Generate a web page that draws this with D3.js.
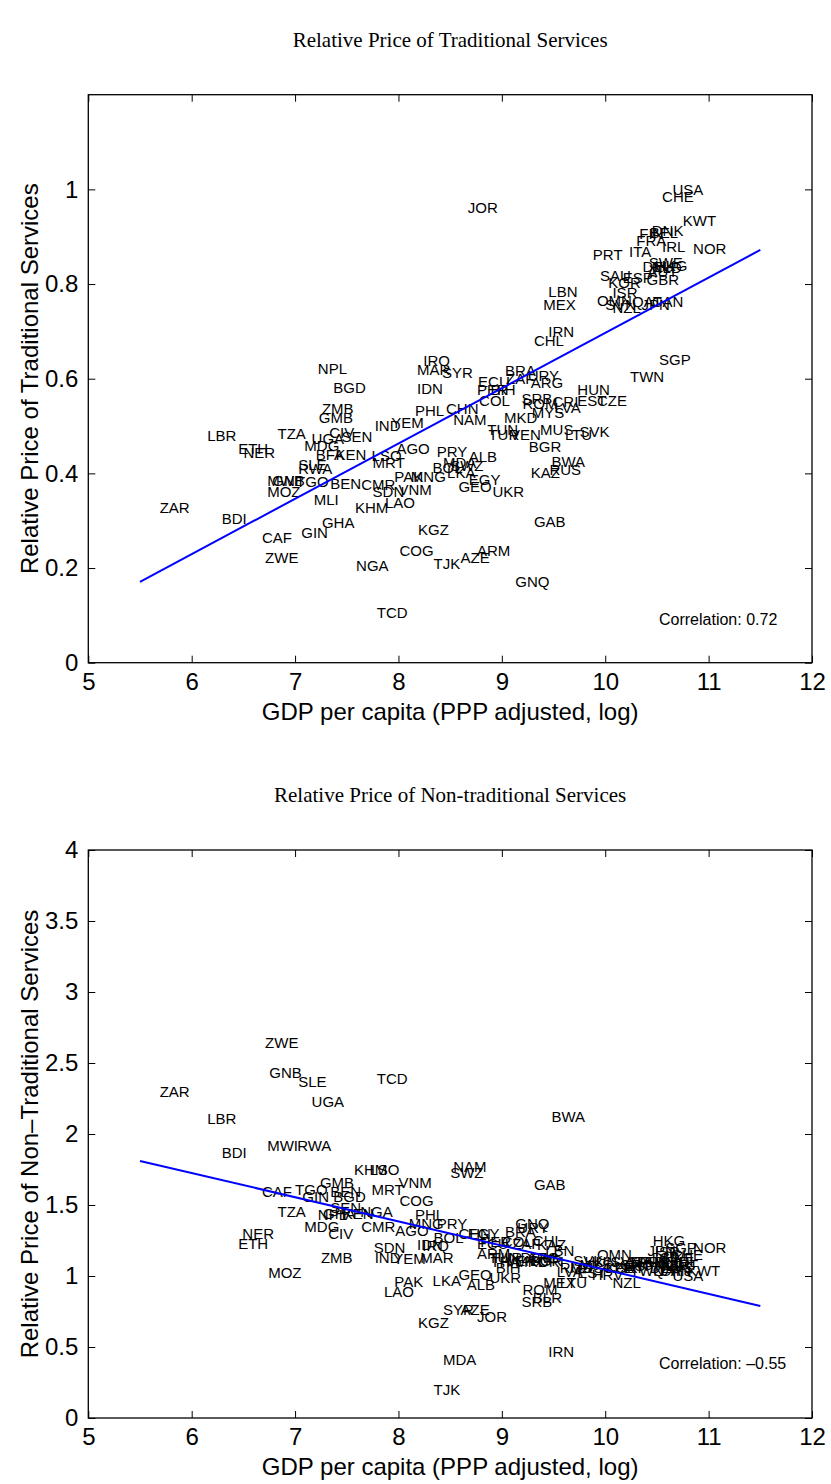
<!DOCTYPE html>
<html>
<head>
<meta charset="utf-8">
<script src="https://cdnjs.cloudflare.com/ajax/libs/d3/7.8.5/d3.min.js"></script>
<style>
  body { margin: 0; background: #fff; }
  svg { display: block; }
</style>
</head>
<body>
<script>
// country code, log GDP per capita, relative price
var tradPoints = [
  ["NPL", 7.22, 0.622], ["BGD", 7.37, 0.580], ["ZMB", 7.26, 0.536], ["GMB", 7.23, 0.517],
  ["CIV", 7.33, 0.485], ["SEN", 7.45, 0.477], ["LBR", 6.15, 0.479], ["TZA", 6.83, 0.483],
  ["UGA", 7.16, 0.473], ["MDG", 7.09, 0.458], ["ETH", 6.45, 0.451], ["NER", 6.50, 0.443],
  ["BFA", 7.20, 0.439], ["KEN", 7.39, 0.439], ["SLE", 7.03, 0.418], ["RWA", 7.03, 0.409],
  ["MWI", 6.73, 0.384], ["GNB", 6.78, 0.384], ["TGO", 7.01, 0.382], ["BEN", 7.34, 0.377],
  ["MOZ", 6.73, 0.361], ["MLI", 7.18, 0.344], ["ZAR", 5.69, 0.327], ["BDI", 6.29, 0.304],
  ["GHA", 7.26, 0.295], ["GIN", 7.06, 0.274], ["CAF", 6.68, 0.263], ["ZWE", 6.71, 0.221],
  ["CHL", 9.31, 0.680], ["IRQ", 8.24, 0.637], ["MAR", 8.18, 0.618], ["SYR", 8.42, 0.612],
  ["BRA", 9.03, 0.616], ["ZAF", 9.04, 0.600], ["URY", 9.25, 0.606], ["ARG", 9.28, 0.591],
  ["ECU", 8.77, 0.593], ["PER", 8.76, 0.576], ["BIH", 8.89, 0.576], ["COL", 8.78, 0.553],
  ["IDN", 8.18, 0.578], ["PHL", 8.16, 0.532], ["CHN", 8.46, 0.536], ["NAM", 8.53, 0.513],
  ["YEM", 7.93, 0.506], ["IND", 7.77, 0.500], ["SRB", 9.19, 0.557], ["ROM", 9.20, 0.547],
  ["MYS", 9.29, 0.528], ["MKD", 9.02, 0.517], ["LVA", 9.51, 0.538], ["CRI", 9.49, 0.551],
  ["EST", 9.73, 0.553], ["CZE", 9.92, 0.553], ["HUN", 9.73, 0.576], ["TWN", 10.24, 0.604],
  ["SGP", 10.52, 0.640], ["SVK", 9.75, 0.487], ["LTU", 9.61, 0.481], ["MUS", 9.37, 0.492],
  ["TUN", 8.86, 0.492], ["TUR", 8.87, 0.481], ["VEN", 9.08, 0.481], ["BGR", 9.26, 0.456],
  ["BWA", 9.48, 0.424], ["RUS", 9.46, 0.407], ["KAZ", 9.28, 0.401], ["AGO", 7.98, 0.451],
  ["LSO", 7.74, 0.437], ["MRT", 7.75, 0.422], ["PRY", 8.37, 0.445], ["ALB", 8.68, 0.435],
  ["MDA", 8.43, 0.422], ["SWZ", 8.50, 0.416], ["BOL", 8.33, 0.411], ["LKA", 8.47, 0.401],
  ["PAK", 7.96, 0.392], ["MNG", 8.12, 0.392], ["CMR", 7.64, 0.375], ["SDN", 7.75, 0.361],
  ["VNM", 8.00, 0.365], ["KHM", 7.58, 0.327], ["LAO", 7.87, 0.337], ["EGY", 8.68, 0.386],
  ["GEO", 8.58, 0.371], ["UKR", 8.91, 0.361], ["GAB", 9.31, 0.297], ["KGZ", 8.19, 0.280],
  ["COG", 8.01, 0.236], ["ARM", 8.76, 0.236], ["AZE", 8.60, 0.221], ["TJK", 8.34, 0.209],
  ["NGA", 7.59, 0.204], ["GNQ", 9.13, 0.171], ["TCD", 7.79, 0.105], ["JOR", 8.67, 0.961],
  ["USA", 10.65, 0.999], ["CHE", 10.55, 0.984], ["KWT", 10.75, 0.933], ["DNK", 10.45, 0.913],
  ["FIN", 10.33, 0.906], ["BEL", 10.43, 0.909], ["FRA", 10.30, 0.891], ["IRL", 10.55, 0.878],
  ["NOR", 10.85, 0.874], ["ITA", 10.23, 0.868], ["PRT", 9.88, 0.862], ["DEU", 10.36, 0.836],
  ["SWE", 10.42, 0.844], ["NLD", 10.45, 0.834], ["AUT", 10.41, 0.825], ["HKG", 10.48, 0.838],
  ["GBR", 10.40, 0.809], ["ESP", 10.17, 0.813], ["SAU", 9.95, 0.817], ["KOR", 10.03, 0.802],
  ["ISR", 10.07, 0.781], ["OMN", 9.92, 0.764], ["SVN", 10.00, 0.756], ["NZL", 10.07, 0.749],
  ["QAT", 10.26, 0.762], ["JPN", 10.35, 0.756], ["CAN", 10.45, 0.762], ["LBN", 9.45, 0.783],
  ["MEX", 9.40, 0.756], ["IRN", 9.45, 0.700]
];

var nonTradPoints = [
  ["ZWE", 6.71, 2.64], ["GNB", 6.75, 2.43], ["SLE", 7.03, 2.37], ["TCD", 7.79, 2.39],
  ["ZAR", 5.69, 2.30], ["UGA", 7.16, 2.23], ["LBR", 6.15, 2.11], ["MWI", 6.73, 1.92],
  ["RWA", 7.02, 1.92], ["BDI", 6.29, 1.87], ["BWA", 9.48, 2.12], ["KHM", 7.57, 1.75],
  ["LSO", 7.72, 1.75], ["VNM", 8.00, 1.66], ["GMB", 7.24, 1.66], ["MRT", 7.74, 1.61],
  ["CAF", 6.68, 1.59], ["TGO", 7.00, 1.61], ["GIN", 7.07, 1.56], ["BEN", 7.34, 1.59],
  ["BGD", 7.37, 1.56], ["SEN", 7.34, 1.48], ["TZA", 6.83, 1.45], ["NPL", 7.22, 1.43],
  ["GHA", 7.27, 1.44], ["KEN", 7.46, 1.44], ["NGA", 7.63, 1.45], ["MDG", 7.09, 1.35],
  ["CIV", 7.32, 1.30], ["CMR", 7.64, 1.35], ["NER", 6.49, 1.30], ["ETH", 6.45, 1.23],
  ["ZMB", 7.25, 1.13], ["SDN", 7.76, 1.20], ["IND", 7.77, 1.13], ["MOZ", 6.74, 1.02],
  ["PAK", 7.96, 0.96], ["LAO", 7.86, 0.89], ["NAM", 8.53, 1.77], ["SWZ", 8.50, 1.73],
  ["GAB", 9.31, 1.64], ["COG", 8.01, 1.53], ["PHL", 8.16, 1.43], ["MNG", 8.10, 1.37],
  ["PRY", 8.37, 1.37], ["AGO", 7.97, 1.32], ["BOL", 8.34, 1.27], ["CHN", 8.58, 1.30],
  ["EGY", 8.67, 1.30], ["BRA", 9.03, 1.31], ["URY", 9.15, 1.34], ["GNQ", 9.13, 1.37],
  ["IDN", 8.18, 1.22], ["IRQ", 8.23, 1.21], ["YEM", 7.95, 1.12], ["MAR", 8.21, 1.13],
  ["ECU", 8.76, 1.23], ["ARM", 8.76, 1.16], ["TUN", 8.87, 1.13], ["THA", 8.89, 1.10],
  ["BIH", 8.94, 1.06], ["ZAF", 9.10, 1.23], ["COL", 9.00, 1.24], ["PER", 8.79, 1.24],
  ["CHL", 9.30, 1.25], ["DOM", 9.18, 1.13], ["MKD", 9.13, 1.10], ["BGR", 9.27, 1.11],
  ["ARG", 9.24, 1.13], ["KAZ", 9.34, 1.22], ["LBN", 9.42, 1.18], ["GEO", 8.58, 1.01],
  ["UKR", 8.88, 0.99], ["LKA", 8.33, 0.97], ["ALB", 8.66, 0.94], ["MEX", 9.40, 0.95],
  ["LTU", 9.56, 0.95], ["ROM", 9.20, 0.90], ["BLR", 9.30, 0.85], ["SRB", 9.19, 0.82],
  ["SYR", 8.43, 0.76], ["AZE", 8.60, 0.76], ["JOR", 8.76, 0.71], ["KGZ", 8.19, 0.67],
  ["MDA", 8.43, 0.41], ["TJK", 8.34, 0.20], ["IRN", 9.45, 0.47], ["VEN", 9.03, 1.11],
  ["TUR", 8.90, 1.13], ["CRI", 9.35, 1.10], ["RUS", 9.56, 1.06],
  ["HKG", 10.46, 1.25], ["NOR", 10.85, 1.20], ["SGP", 10.58, 1.20], ["CHE", 10.64, 1.15],
  ["JPN", 10.41, 1.18], ["ISR", 10.48, 1.17], ["DNK", 10.45, 1.13], ["SWE", 10.53, 1.13],
  ["FIN", 10.38, 1.10], ["GBR", 10.51, 1.08], ["FRA", 10.33, 1.10], ["BEL", 10.48, 1.10],
  ["ITA", 10.24, 1.10], ["AUS", 10.55, 1.06], ["CAN", 10.53, 1.04], ["AUT", 10.61, 1.08],
  ["IRL", 10.67, 1.10], ["DEU", 10.43, 1.06], ["NLD", 10.48, 1.07], ["QAT", 10.46, 1.04],
  ["KWT", 10.79, 1.04], ["USA", 10.65, 1.00], ["OMN", 9.92, 1.15], ["SVK", 9.69, 1.11],
  ["NZL", 10.07, 0.95], ["LVA", 9.53, 1.03], ["EST", 9.73, 1.02], ["HRV", 9.87, 1.01],
  ["CZE", 9.98, 1.06], ["SVN", 10.05, 1.10], ["KOR", 10.00, 1.06], ["GRC", 10.14, 1.08],
  ["PRT", 10.09, 1.06], ["ESP", 10.19, 1.07], ["SAU", 10.22, 1.10], ["HUN", 9.80, 1.10],
  ["MYS", 9.75, 1.08], ["MUS", 9.66, 1.06], ["TWN", 10.24, 1.04]
];

var xTicks = [5, 6, 7, 8, 9, 10, 11, 12];
var tradYTicks = [0, 0.2, 0.4, 0.6, 0.8, 1];
var nonTradYTicks = [0, 0.5, 1, 1.5, 2, 2.5, 3, 3.5, 4];

// fitted line end points [gdp, price]
var tradFit = [[5.5, 0.171], [11.5, 0.872]];
var nonTradFit = [[5.5, 1.81], [11.5, 0.789]];

var tradCorr = "Correlation: 0.72";
var nonTradCorr = "Correlation: \u20130.55";

var full_width = 831, full_height = 1484;
var sans = "'Liberation Sans', Arial, Helvetica, sans-serif";
var serif = "'Liberation Serif', 'Times New Roman', serif";

var svg = d3.select("body").append("svg")
  .attr("width", full_width)
  .attr("height", full_height);

var drawPanel = function(p) {
  var left = 88.3, right = 812;
  var width = right - left, height = p.bottom - p.top;

  var x = d3.scaleLinear().domain([5, 12]).range([0, width]);
  var y = d3.scaleLinear().domain(p.yDomain).range([height, 0]);

  var g = svg.append("g")
    .attr("transform", "translate(" + left + "," + p.top + ")");

  // title
  g.append("text")
    .attr("x", width / 2)
    .attr("y", -55)
    .attr("dy", "0.35em")
    .attr("text-anchor", "middle")
    .style("font-family", serif)
    .style("font-size", "21px")
    .text(p.title);

  // country labels: MATLAB text, left aligned, vertically centred
  g.selectAll("text.code")
    .data(p.points)
    .enter().append("text")
    .attr("class", "code")
    .attr("x", function(d) { return x(d[1]); })
    .attr("y", function(d) { return y(d[2]); })
    .attr("dy", "0.35em")
    .style("font-family", sans)
    .style("font-size", "15px")
    .style("fill", "#000")
    .text(function(d) { return d[0]; });

  // fitted line
  g.append("path")
    .datum(p.fit)
    .attr("fill", "none")
    .attr("stroke", "#0000ff")
    .attr("stroke-width", 2)
    .attr("d", d3.line().x(function(d) { return x(d[0]); }).y(function(d) { return y(d[1]); }));

  // axes: ticks inside on all four sides
  var tl = 7;
  var fmt = function(d) { return String(d); };
  var xb = d3.axisBottom(x).tickValues(xTicks).tickSize(-tl).tickSizeOuter(0).tickFormat(fmt);
  var xt = d3.axisTop(x).tickValues(xTicks).tickSize(-tl).tickSizeOuter(0).tickFormat("");
  var yl = d3.axisLeft(y).tickValues(p.yTicks).tickSize(-tl).tickSizeOuter(0).tickPadding(10)
    .tickFormat(fmt);
  var yr = d3.axisRight(y).tickValues(p.yTicks).tickSize(-tl).tickSizeOuter(0).tickFormat("");

  var gx = g.append("g").attr("transform", "translate(0," + height + ")").call(xb);
  g.append("g").call(xt);
  g.append("g").call(yl);
  g.append("g").attr("transform", "translate(" + width + ",0)").call(yr);

  g.selectAll(".domain").remove();
  g.selectAll(".tick line").attr("stroke", "#000").attr("stroke-width", 1);
  g.selectAll(".tick text")
    .style("font-family", sans)
    .style("font-size", "24px")
    .attr("fill", "#000");
  gx.selectAll(".tick text").attr("y", 10).attr("dy", "0.71em");

  g.append("rect")
    .attr("width", width)
    .attr("height", height)
    .attr("fill", "none")
    .attr("stroke", "#000")
    .attr("stroke-width", 1.3);

  // correlation note
  g.append("text")
    .attr("x", x(10.52))
    .attr("y", y(p.corrY))
    .attr("dy", "0.35em")
    .style("font-family", sans)
    .style("font-size", "16px")
    .text(p.corr);

  // axis labels
  g.append("text")
    .attr("x", width / 2)
    .attr("y", height + 49)
    .attr("dy", "0.35em")
    .attr("text-anchor", "middle")
    .style("font-family", sans)
    .style("font-size", "24px")
    .text("GDP per capita (PPP adjusted, log)");

  g.append("text")
    .attr("transform", "translate(" + (30 - left) + "," + (height / 2) + ") rotate(-90)")
    .attr("dy", "0.35em")
    .attr("text-anchor", "middle")
    .style("font-family", sans)
    .style("font-size", "24px")
    .text(p.yLabel);
};

drawPanel({
  top: 94.7, bottom: 662.7, yDomain: [0, 1.2], yTicks: tradYTicks,
  points: tradPoints, fit: tradFit, corr: tradCorr, corrY: 0.092,
  title: "Relative Price of Traditional Services",
  yLabel: "Relative Price of Traditional Services"
});

drawPanel({
  top: 850, bottom: 1418, yDomain: [0, 4], yTicks: nonTradYTicks,
  points: nonTradPoints, fit: nonTradFit, corr: nonTradCorr, corrY: 0.387,
  title: "Relative Price of Non-traditional Services",
  yLabel: "Relative Price of Non\u2013Traditional Services"
});
</script>
</body>
</html>
